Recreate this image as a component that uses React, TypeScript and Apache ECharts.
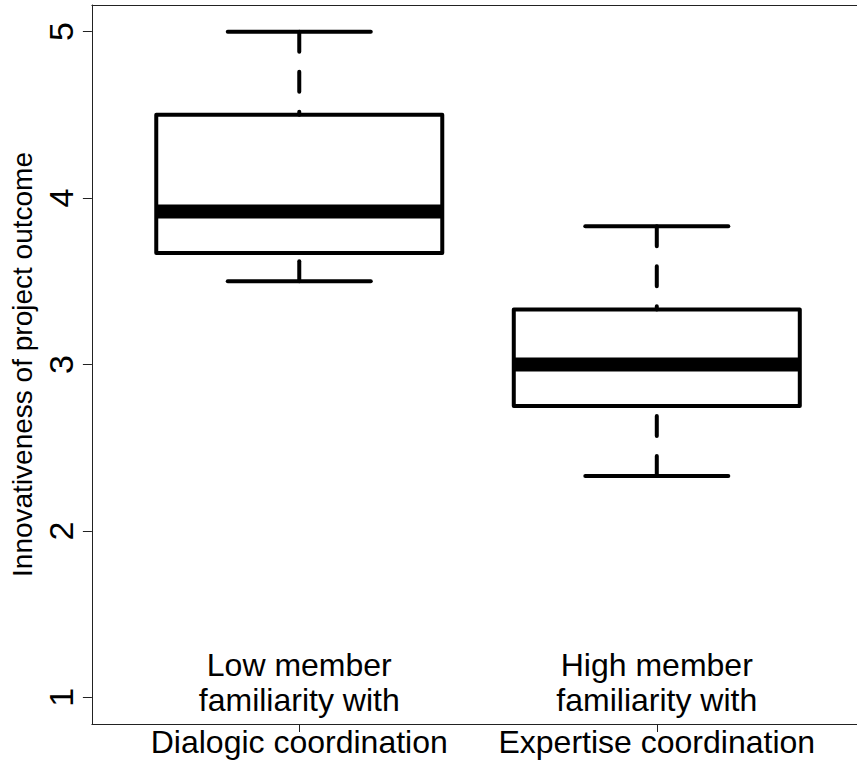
import React, { useEffect, useRef } from "react";
import * as echarts from "echarts";

// ---- data ----
const groupPositions = [1, 2];
const labelLine1 = ["Low member", "High member"];
const labelLine2 = ["familiarity with", "familiarity with"];
const labelLine3 = ["Dialogic coordination", "Expertise coordination"];
const whiskerLow = [3.5, 2.33];
const quartile1 = [3.67, 2.75];
const medians = [3.92, 3.0];
const quartile3 = [4.5, 3.33];
const whiskerHigh = [5.0, 3.83];
const yTicks = [1, 2, 3, 4, 5];
const yTitle = "Innovativeness of project outcome";

const FONT = "'Liberation Sans', Arial, Helvetica, sans-serif";

export default function App() {
  const ref = useRef<HTMLDivElement>(null);

  useEffect(() => {
    document.body.style.margin = "0";
    if (!ref.current) return;
    const chart = echarts.init(ref.current, undefined, { renderer: "svg" });

    const boxData = groupPositions.map((x, i) => [
      x,
      whiskerLow[i],
      quartile1[i],
      medians[i],
      quartile3[i],
      whiskerHigh[i],
    ]);

    const lineStyleBase = { stroke: "#000", lineWidth: 4 };

    const option: any = {
      animation: false,
      backgroundColor: "#fff",
      grid: { left: 89, right: 0, top: 5, bottom: 37, containLabel: false },
      xAxis: [
        {
          type: "value",
          min: 0.42,
          max: 2.56,
          position: "bottom",
          axisLine: { show: true, onZero: false, lineStyle: { color: "#222", width: 1 } },
          axisTick: {
            show: true,
            customValues: groupPositions,
            length: 8,
            lineStyle: { color: "#222", width: 1 },
          },
          splitLine: { show: false },
          axisLabel: {
            show: true,
            customValues: groupPositions,
            margin: -77,
            hideOverlap: false,
            formatter: (v: number) => {
              const i = groupPositions.indexOf(Math.round(v));
              if (i < 0) return "";
              return `{a|${labelLine1[i]}}\n{a|${labelLine2[i]}}\n{b|${labelLine3[i]}}`;
            },
            rich: {
              a: { fontSize: 32, fontFamily: FONT, color: "#000", lineHeight: 35 },
              b: { fontSize: 32, fontFamily: FONT, color: "#000", lineHeight: 49 },
            },
          },
        },
        {
          type: "value",
          min: 0.42,
          max: 2.56,
          position: "top",
          axisLine: { show: true, onZero: false, lineStyle: { color: "#222", width: 1 } },
          axisTick: { show: false },
          axisLabel: { show: false },
          splitLine: { show: false },
        },
      ],
      yAxis: {
        type: "value",
        min: 0.84,
        max: 5.16,
        axisLine: { show: true, onZero: false, lineStyle: { color: "#222", width: 1 } },
        axisTick: {
          show: true,
          customValues: yTicks,
          length: 9,
          lineStyle: { color: "#222", width: 1 },
        },
        splitLine: { show: false },
        axisLabel: {
          show: true,
          customValues: yTicks,
          rotate: 90,
          margin: 14,
          fontSize: 34,
          fontFamily: FONT,
          color: "#000",
        },
        name: yTitle,
        nameLocation: "middle",
        nameRotate: 90,
        nameGap: 55,
        nameTextStyle: { fontSize: 28, fontFamily: FONT, color: "#000" },
      },
      series: [
        {
          type: "custom",
          xAxisIndex: 0,
          yAxisIndex: 0,
          data: boxData,
          encode: { x: 0, y: [1, 2, 3, 4, 5] },
          renderItem: (params: any, api: any) => {
            const x = api.value(0);
            const lo = api.value(1);
            const q1 = api.value(2);
            const med = api.value(3);
            const q3 = api.value(4);
            const hi = api.value(5);
            const half = 0.4;
            const cap = 0.2;
            const tl = api.coord([x - half, q3]);
            const br = api.coord([x + half, q1]);
            const mL = api.coord([x - half, med]);
            const mR = api.coord([x + half, med]);
            const pHi = api.coord([x, hi]);
            const pQ3 = api.coord([x, q3]);
            const pLo = api.coord([x, lo]);
            const pQ1 = api.coord([x, q1]);
            const cHiL = api.coord([x - cap, hi]);
            const cHiR = api.coord([x + cap, hi]);
            const cLoL = api.coord([x - cap, lo]);
            const cLoR = api.coord([x + cap, lo]);
            const dashed = { ...lineStyleBase, lineDash: [20, 20], lineCap: "round" };
            const solid = { ...lineStyleBase, lineCap: "round" };
            return {
              type: "group",
              children: [
                {
                  type: "line",
                  shape: { x1: pHi[0], y1: pHi[1], x2: pQ3[0], y2: pQ3[1] },
                  style: dashed,
                },
                {
                  type: "line",
                  shape: { x1: pLo[0], y1: pLo[1], x2: pQ1[0], y2: pQ1[1] },
                  style: dashed,
                },
                {
                  type: "line",
                  shape: { x1: cHiL[0], y1: cHiL[1], x2: cHiR[0], y2: cHiR[1] },
                  style: solid,
                },
                {
                  type: "line",
                  shape: { x1: cLoL[0], y1: cLoL[1], x2: cLoR[0], y2: cLoR[1] },
                  style: solid,
                },
                {
                  type: "rect",
                  shape: { x: tl[0], y: tl[1], width: br[0] - tl[0], height: br[1] - tl[1] },
                  style: { fill: "none", stroke: "#000", lineWidth: 4, lineJoin: "round" },
                },
                {
                  type: "line",
                  shape: { x1: mL[0], y1: mL[1], x2: mR[0], y2: mR[1] },
                  style: { stroke: "#000", lineWidth: 14, lineCap: "butt" },
                },
              ],
            };
          },
        },
      ],
    };

    chart.setOption(option);
    return () => chart.dispose();
  }, []);

  return <div ref={ref} style={{ width: 857, height: 761 }} />;
}
